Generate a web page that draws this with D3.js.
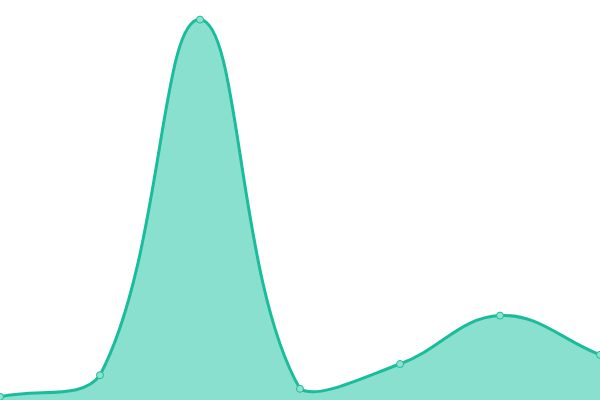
<!DOCTYPE html>
<html>
<head>
<meta charset="utf-8">
<script src="https://cdn.jsdelivr.net/npm/d3@7"></script>
<style>
  html, body { margin: 0; padding: 0; background: #fff; }
  svg { display: block; }
</style>
</head>
<body>
<div id="chart"></div>
<script>
// chart values
var labels = ["A", "B", "C", "D", "E", "F", "G"];
var values = [0.8, 6.2, 95.1, 2.8, 9.0, 21.1, 11.3];
var yDomain = [0, 100];

var width = 600, height = 400;

var svg = d3.select("#chart").append("svg")
    .attr("width", width)
    .attr("height", height);

var x = d3.scalePoint()
    .domain(labels)
    .range([0, width]);

var y = d3.scaleLinear()
    .domain(yDomain)
    .range([height, 0]);

// spline with tension 0.4, control points kept inside the drawing area
function splineCurve(tension, x0, x1, y0, y1) {
    function Spline(context) { this._context = context; }
    Spline.prototype = {
        areaStart: function() { this._line = 0; },
        areaEnd: function() { this._line = NaN; },
        lineStart: function() { this._x = []; this._y = []; },
        point: function(px, py) { this._x.push(+px); this._y.push(+py); },
        lineEnd: function() {
            var xs = this._x, ys = this._y, n = xs.length, ctx = this._context;
            if (n) {
                this._line ? ctx.lineTo(xs[0], ys[0]) : ctx.moveTo(xs[0], ys[0]);
                if (n > 1) {
                    var cp = [];
                    for (var i = 0; i < n; i++) {
                        var pi = i > 0 ? i - 1 : i, ni = i < n - 1 ? i + 1 : i;
                        var d01 = Math.hypot(xs[i] - xs[pi], ys[i] - ys[pi]);
                        var d12 = Math.hypot(xs[ni] - xs[i], ys[ni] - ys[i]);
                        var s01 = d01 / (d01 + d12 || 1), s12 = d12 / (d01 + d12 || 1);
                        var fa = tension * s01, fb = tension * s12;
                        var dx = xs[ni] - xs[pi], dy = ys[ni] - ys[pi];
                        cp.push({
                            px: clamp(xs[i] - fa * dx, x0, x1), py: clamp(ys[i] - fa * dy, y0, y1),
                            nx: clamp(xs[i] + fb * dx, x0, x1), ny: clamp(ys[i] + fb * dy, y0, y1)
                        });
                    }
                    for (var j = 1; j < n; j++) {
                        ctx.bezierCurveTo(cp[j - 1].nx, cp[j - 1].ny, cp[j].px, cp[j].py, xs[j], ys[j]);
                    }
                }
            }
            if (this._line || (this._line !== 0 && n === 1)) ctx.closePath();
            this._line = 1 - this._line;
            this._x = this._y = null;
        }
    };
    return function(context) { return new Spline(context); };
}

function clamp(v, lo, hi) { return Math.max(lo, Math.min(hi, v)); }

var curve = splineCurve(0.4, 0, width, 0, height);

var area = d3.area()
    .x(function(d, i) { return x(labels[i]); })
    .y0(height)
    .y1(function(d) { return y(d); })
    .curve(curve);

var line = d3.line()
    .x(function(d, i) { return x(labels[i]); })
    .y(function(d) { return y(d); })
    .curve(curve);

svg.append("path")
    .datum(values)
    .attr("d", area)
    .attr("fill", "#89e0ce");

svg.append("path")
    .datum(values)
    .attr("d", line)
    .attr("fill", "none")
    .attr("stroke", "#1abc9c")
    .attr("stroke-width", 3);

svg.selectAll(".dot")
    .data(values)
    .enter().append("circle")
    .attr("class", "dot")
    .attr("cx", function(d, i) { return x(labels[i]); })
    .attr("cy", function(d) { return y(d); })
    .attr("r", 3.5)
    .attr("fill", "#8fe2cf")
    .attr("stroke", "#1abc9c")
    .attr("stroke-width", 1);
</script>
</body>
</html>
